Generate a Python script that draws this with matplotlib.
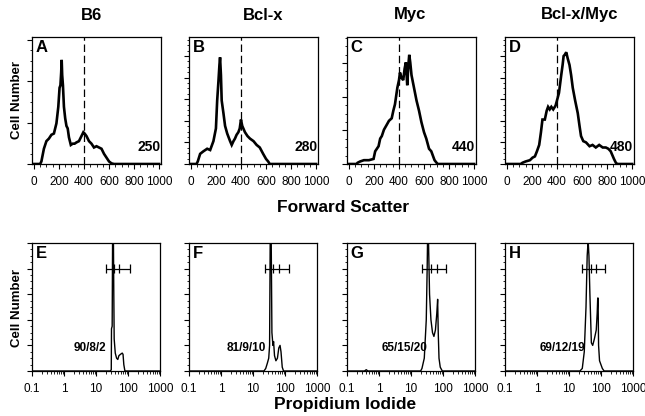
import numpy as np
import matplotlib
matplotlib.use("Agg")
import matplotlib.pyplot as plt
from matplotlib.ticker import MultipleLocator, LogLocator, NullFormatter, FixedLocator

plt.rcParams['font.family'] = ['Liberation Sans', 'DejaVu Sans']

# Column headers
genotypes = ["B6", "Bcl-x", "Myc", "Bcl-x/Myc"]
top_letters = ["A", "B", "C", "D"]
bottom_letters = ["E", "F", "G", "H"]
mean_fsc = ["250", "280", "440", "480"]
cycle_pct = ["90/8/2", "81/9/10", "65/15/20", "69/12/19"]

# Forward scatter histograms (relative cell number)
b6_fsc_x = [0, 50, 60, 80, 100, 120, 140, 160, 180, 195, 205, 212, 218, 222, 226, 232, 240, 250, 260, 270, 280,
            295, 310, 325, 340, 360, 380, 395, 405, 420, 440, 460, 480, 500, 520, 540, 560, 580, 600, 620, 640, 1000]
b6_fsc_y = [0, 0, 0.02, 0.12, 0.18, 0.2, 0.23, 0.24, 0.32, 0.45, 0.6, 0.62, 0.72, 0.82, 0.7, 0.62, 0.45, 0.36, 0.3,
            0.28, 0.21, 0.15, 0.16, 0.16, 0.17, 0.18, 0.22, 0.25, 0.24, 0.22, 0.18, 0.16, 0.13, 0.14, 0.13, 0.12,
            0.08, 0.05, 0.02, 0.005, 0, 0]

bclx_fsc_x = [0, 45, 55, 74, 100, 130, 154, 180, 200, 210, 220, 228, 233, 240, 246, 260, 273, 290, 313, 326, 340,
              352, 365, 379, 390, 400, 410, 432, 452, 472, 500, 525, 550, 577, 600, 617, 630, 1000]
bclx_fsc_y = [0, 0, 0.02, 0.08, 0.1, 0.12, 0.11, 0.18, 0.28, 0.5, 0.65, 0.78, 0.84, 0.7, 0.5, 0.4, 0.3, 0.24, 0.18,
              0.15, 0.18, 0.2, 0.23, 0.25, 0.28, 0.35, 0.3, 0.25, 0.22, 0.2, 0.18, 0.15, 0.13, 0.08, 0.04, 0.02,
              0, 0]

myc_fsc_x = [0, 60, 70, 90, 120, 160, 197, 210, 237, 250, 263, 280, 303, 320, 342, 355, 368, 387, 400, 408, 420,
             434, 445, 455, 466, 475, 482, 490, 500, 520, 540, 560, 579, 600, 618, 640, 658, 684, 700, 710, 1000]
myc_fsc_y = [0, 0, 0.01, 0.02, 0.03, 0.03, 0.04, 0.1, 0.14, 0.2, 0.22, 0.27, 0.31, 0.34, 0.36, 0.42, 0.47, 0.6,
             0.66, 0.72, 0.68, 0.66, 0.75, 0.8, 0.62, 0.78, 0.86, 0.8, 0.7, 0.6, 0.5, 0.42, 0.33, 0.25, 0.2, 0.12,
             0.1, 0.03, 0.01, 0, 0]

bclxmyc_fsc_x = [0, 110, 125, 150, 184, 205, 224, 240, 258, 272, 284, 303, 318, 329, 342, 355, 370, 389, 400, 416,
                 434, 445, 453, 462, 474, 486, 500, 513, 526, 545, 566, 580, 592, 610, 632, 660, 684, 710, 737, 765,
                 790, 810, 829, 855, 870, 882, 1000]
bclxmyc_fsc_y = [0, 0, 0.01, 0.02, 0.03, 0.05, 0.06, 0.1, 0.15, 0.25, 0.35, 0.35, 0.42, 0.45, 0.43, 0.45, 0.43,
                 0.46, 0.5, 0.56, 0.7, 0.78, 0.85, 0.86, 0.88, 0.83, 0.78, 0.7, 0.6, 0.5, 0.4, 0.3, 0.22, 0.18, 0.17,
                 0.14, 0.15, 0.13, 0.15, 0.13, 0.13, 0.12, 0.1, 0.04, 0.01, 0, 0]

# Propidium iodide histograms (relative cell number, tallest peaks go off scale)
b6_pi_x = [0.1, 28, 30, 30.5, 32, 33, 35, 36, 37, 40, 44, 48, 52, 58, 66, 70, 74, 80, 1000]
b6_pi_y = [0, 0, 0.01, 0.33, 0.35, 1.05, 1.05, 0.6, 0.25, 0.14, 0.1, 0.09, 0.12, 0.13, 0.14, 0.13, 0.05, 0, 0]

bclx_pi_x = [0.1, 22, 25, 28, 31, 33, 34.5, 37, 39, 42, 44, 47, 52, 58, 64, 70, 75, 82, 90, 1000]
bclx_pi_y = [0, 0, 0.02, 0.06, 0.1, 0.2, 1.05, 1.05, 0.3, 0.2, 0.23, 0.12, 0.08, 0.1, 0.18, 0.2, 0.15, 0.03, 0, 0]

myc_pi_x = [0.1, 0.35, 0.4, 0.45, 20, 22, 26, 30, 32, 33, 35, 38, 42, 47, 52, 58, 64, 68, 71, 75, 82, 95, 1000]
myc_pi_y = [0, 0, 0.01, 0, 0, 0.02, 0.1, 0.4, 0.8, 1.05, 1.05, 0.6, 0.4, 0.3, 0.27, 0.32, 0.45, 0.56, 0.3, 0.1,
            0.03, 0, 0]

bclxmyc_pi_x = [0.1, 22, 26, 30, 34, 37, 39, 40, 42, 45, 50, 55, 62, 71, 76, 79, 81, 84, 90, 110, 125, 1000]
bclxmyc_pi_y = [0, 0, 0.02, 0.15, 0.5, 0.9, 0.99, 1.0, 0.9, 0.6, 0.22, 0.2, 0.25, 0.32, 0.45, 0.57, 0.57, 0.2,
                0.08, 0.02, 0, 0]

# Cell cycle gates: start, G1/S, S/G2, end
gate_lo = [20, 23, 22, 25]
gate_m1 = [37, 42, 41, 47]
gate_m2 = [54, 65, 63, 72]
gate_hi = [112, 132, 123, 137]

fsc_x = [b6_fsc_x, bclx_fsc_x, myc_fsc_x, bclxmyc_fsc_x]
fsc_y = [b6_fsc_y, bclx_fsc_y, myc_fsc_y, bclxmyc_fsc_y]
pi_x = [b6_pi_x, bclx_pi_x, myc_pi_x, bclxmyc_pi_x]
pi_y = [b6_pi_y, bclx_pi_y, myc_pi_y, bclxmyc_pi_y]

W, H = 645, 416
fig = plt.figure(figsize=(W / 100, H / 100), dpi=100)


def add_ax(left, top, w, h):
    return fig.add_axes([left / W, 1 - (top + h) / H, w / W, h / H])


lefts = [32, 189, 347, 505]
title_x = [92, 263, 410, 580]
top_ytick = [0.325, 0.17, 0.265, 0.17]


def style(ax):
    for s in ax.spines.values():
        s.set_linewidth(0.9)
    ax.tick_params(which='major', direction='out', length=3.5, width=0.8, labelsize=8.5, pad=5)
    ax.tick_params(which='minor', direction='out', length=1.8, width=0.6)
    ax.tick_params(axis='y', labelleft=False)
    ax.set_ylim(0, 1)


for i in range(4):
    # top row: forward scatter
    ax = add_ax(lefts[i], 37, 129, 127)
    style(ax)
    ax.plot(fsc_x[i], fsc_y[i], color='black', lw=1.9, solid_joinstyle='miter')
    ax.axvline(400, color='black', lw=0.9, dashes=(6, 3))
    ax.set_xlim(-15, 1015)
    ax.xaxis.set_major_locator(MultipleLocator(200))
    ax.xaxis.set_minor_locator(MultipleLocator(50))
    ax.yaxis.set_major_locator(MultipleLocator(top_ytick[i]))
    ax.yaxis.set_minor_locator(MultipleLocator(top_ytick[i] / 4))
    ax.text(0.03, 0.975, top_letters[i], transform=ax.transAxes, ha='left', va='top',
            fontsize=12, fontweight='bold')
    ax.text(0.995, 0.13, mean_fsc[i], transform=ax.transAxes, ha='right', va='center',
            fontsize=10, fontweight='bold')
    fig.text(title_x[i] / W, 1 - 15 / H, genotypes[i], ha='center', va='center',
             fontsize=12, fontweight='bold')

    # bottom row: propidium iodide
    ax = add_ax(lefts[i], 243, 128, 128)
    style(ax)
    ax.set_xscale('log')
    ax.set_xlim(0.1, 1000)
    ax.plot(pi_x[i], pi_y[i], color='black', lw=1.0)
    ax.xaxis.set_major_locator(FixedLocator([0.1, 1, 10, 100, 1000]))
    ax.xaxis.set_minor_locator(LogLocator(base=10, subs=np.arange(2, 10)))
    ax.xaxis.set_minor_formatter(NullFormatter())
    ax.set_xticklabels(["0.1", "1", "10", "100", "1000"])
    ax.yaxis.set_major_locator(MultipleLocator(0.2))
    ax.yaxis.set_minor_locator(MultipleLocator(0.05))
    yg = 0.8
    ax.hlines(yg, gate_lo[i], gate_hi[i], color='black', lw=0.9)
    ax.vlines([gate_lo[i], gate_m1[i], gate_m2[i], gate_hi[i]], yg - 0.035, yg + 0.035, color='black', lw=0.9)
    ax.text(0.03, 0.975, bottom_letters[i], transform=ax.transAxes, ha='left', va='top',
            fontsize=12, fontweight='bold')
    ax.text(0.45, 0.18, cycle_pct[i], transform=ax.transAxes, ha='center', va='center',
            fontsize=8.5, fontweight='bold')

fig.text(343 / W, 1 - 207 / H, "Forward Scatter", ha='center', va='center', fontsize=12.5, fontweight='bold')
fig.text(345 / W, 1 - 404 / H, "Propidium Iodide", ha='center', va='center', fontsize=12.5, fontweight='bold')
fig.text(17 / W, 1 - 100 / H, "Cell Number", ha='center', va='center', rotation=90, fontsize=9.5, fontweight='bold')
fig.text(17 / W, 1 - 308 / H, "Cell Number", ha='center', va='center', rotation=90, fontsize=9.5, fontweight='bold')

fig.savefig("out.png", dpi=100, facecolor='white')
